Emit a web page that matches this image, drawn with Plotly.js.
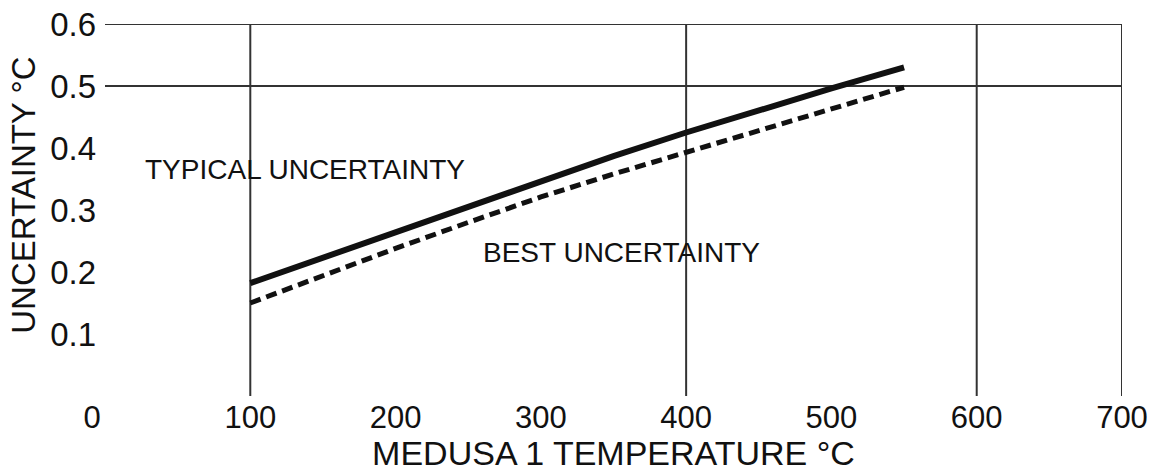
<!DOCTYPE html>
<html>
<head>
<meta charset="utf-8">
<script src="https://cdn.plot.ly/plotly-3.0.1.min.js"></script>
<style>
  html, body { margin: 0; padding: 0; background: #ffffff; }
  #chart { width: 1156px; height: 472px; }
</style>
</head>
<body>
<div id="chart"></div>
<script>
// ---- data ----
var temperature = [100, 150, 200, 250, 300, 350, 400, 450, 500, 550];
var typicalUncertainty = [0.182, 0.223, 0.265, 0.306, 0.347, 0.387, 0.425, 0.461, 0.496, 0.530];
var bestUncertainty    = [0.150, 0.195, 0.238, 0.280, 0.321, 0.358, 0.393, 0.428, 0.462, 0.498];

var xTickVals  = [0, 100, 200, 300, 400, 500, 600, 700];
var xTickText  = ['0\u00a0\u00a0\u00a0', '100', '200', '300', '400', '500', '600', '700'];
var yTickVals  = [0.1, 0.2, 0.3, 0.4, 0.5, 0.6];
var yTickText  = ['0.1', '0.2', '0.3', '0.4', '0.5', '0.6'];
var gridX = [100, 400, 600, 700];
var gridY = [0.5, 0.6];

var xTitle = 'MEDUSA 1 TEMPERATURE \u00b0C';
var yTitle = 'UNCERTAINTY \u00b0C';
var typicalLabel = 'TYPICAL UNCERTAINTY';
var bestLabel = 'BEST UNCERTAINTY';

var FONT = 'Liberation Sans, Arial, Helvetica, sans-serif';
var INK = '#111111';
var GRID = '#333333';

var traces = [
  {
    x: temperature, y: typicalUncertainty, type: 'scatter', mode: 'lines',
    name: typicalLabel, line: { color: INK, width: 6, dash: 'solid' },
    hoverinfo: 'x+y'
  },
  {
    x: temperature, y: bestUncertainty, type: 'scatter', mode: 'lines',
    name: bestLabel, line: { color: INK, width: 5, dash: '11px,6px' },
    hoverinfo: 'x+y'
  }
];

var shapes = [];
gridX.forEach(function (v) {
  shapes.push({ type: 'line', xref: 'x', yref: 'paper', x0: v, x1: v, y0: 0, y1: 1,
    line: { color: GRID, width: 2 }, layer: 'below' });
});
gridY.forEach(function (v) {
  shapes.push({ type: 'line', xref: 'paper', yref: 'y', x0: 0, x1: 1, y0: v, y1: v,
    line: { color: GRID, width: 2 }, layer: 'below' });
});

var layout = {
  width: 1156, height: 472,
  margin: { l: 105, r: 34, t: 24, b: 76, pad: 0 },
  paper_bgcolor: '#ffffff', plot_bgcolor: '#ffffff',
  showlegend: false,
  font: { family: FONT, color: INK, size: 30 },
  xaxis: {
    range: [0, 700], tickmode: 'array', tickvals: xTickVals, ticktext: xTickText,
    showgrid: false, zeroline: false, showline: false, ticks: '',
    ticklabelstandoff: 0,
    tickfont: { family: FONT, size: 31, color: INK },
    title: { text: xTitle, font: { family: FONT, size: 34, color: INK }, standoff: 1 }
  },
  yaxis: {
    range: [0, 0.6], tickmode: 'array', tickvals: yTickVals, ticktext: yTickText,
    showgrid: false, zeroline: false, showline: false, ticks: '',
    ticklabelstandoff: 8,
    tickfont: { family: FONT, size: 33, color: INK }
  },
  shapes: shapes,
  annotations: [
    { text: typicalLabel, xref: 'x', yref: 'y', x: 26, y: 0.365, xanchor: 'left', yanchor: 'middle',
      showarrow: false, font: { family: FONT, size: 28, color: INK } },
    { text: bestLabel, xref: 'x', yref: 'y', x: 259, y: 0.231, xanchor: 'left', yanchor: 'middle',
      showarrow: false, font: { family: FONT, size: 28, color: INK } },
    { text: yTitle, xref: 'paper', yref: 'paper', x: -0.081, y: 0.54, xanchor: 'center', yanchor: 'middle',
      textangle: -90, showarrow: false, font: { family: FONT, size: 33, color: INK } }
  ]
};

Plotly.newPlot('chart', traces, layout, { displayModeBar: false, staticPlot: true });
</script>
</body>
</html>
